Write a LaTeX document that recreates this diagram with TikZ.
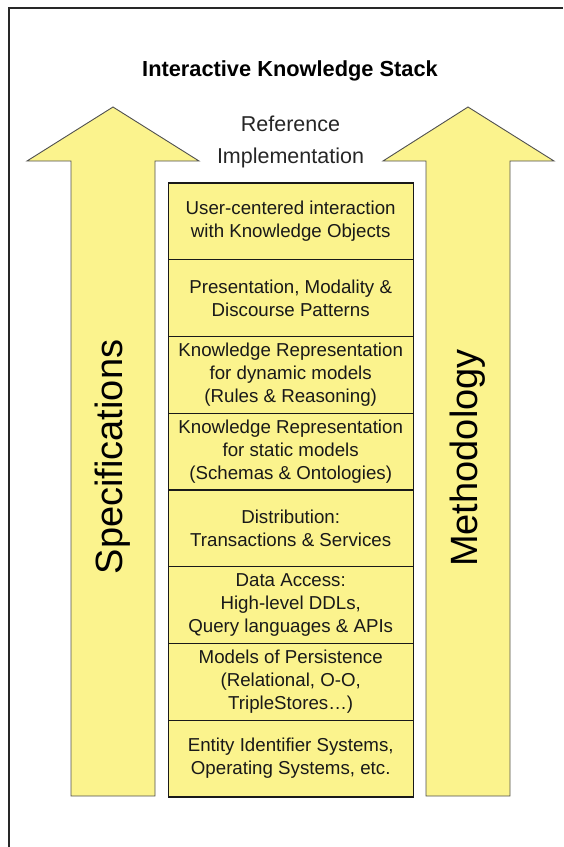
\documentclass[tikz,border=0pt]{standalone}
\usepackage{fontspec}
\setmainfont{Liberation Sans}
\definecolor{stackfill}{RGB}{251,243,141}
\definecolor{arrowline}{RGB}{80,80,80}
\definecolor{framecol}{RGB}{40,40,40}
\begin{document}
\begin{tikzpicture}[x=1pt,y=-1pt,
  layer/.style={draw=black!90,line width=1.3pt,fill=stackfill,minimum width=245pt,
    minimum height=76.75pt,inner sep=0pt,align=center,text=black!90,
    font=\fontsize{18.7}{23}\selectfont},
  bigarrow/.style={draw=arrowline,line width=0.9pt,fill=stackfill,line join=miter},
  sidelabel/.style={rotate=90,font=\fontsize{38}{40}\selectfont,text=black,inner sep=0pt},
]
\useasboundingbox (0,0) rectangle (563,847);
\draw[framecol,line width=1.3pt] (9,847) -- (9,8) -- (563,8);

\node[font=\fontsize{21.8}{24}\selectfont\bfseries,anchor=base] (title) at (290,76.7) {Interactive Knowledge Stack};
\node[font=\fontsize{21.5}{31.6}\selectfont,align=center,anchor=base,text=black!85] (ref) at (290.5,163.3) {Reference\\Implementation};

\draw[bigarrow] (71,796) -- (71,161) -- (27,161) -- (113,107) -- (199,161) -- (155,161) -- (155,796) -- cycle;
\draw[bigarrow] (426,796) -- (426,161) -- (383,161) -- (468,107) -- (554,161) -- (510,161) -- (510,796) -- cycle;

\node[sidelabel] (spec) at (113,457) {Specifications};
\node[sidelabel] (meth) at (468,458) {Methodology};

\node[layer] (l1) at (290.7,221.4) {User-centered interaction\\with Knowledge Objects};
\node[layer] (l2) at (290.7,298.1) {Presentation, Modality \&\\Discourse Patterns};
\node[layer] (l3) at (290.7,374.9) {Knowledge Representation\\for dynamic models\\(Rules \& Reasoning)};
\node[layer] (l4) at (290.7,451.6) {Knowledge Representation\\for static models\\(Schemas \& Ontologies)};
\node[layer] (l5) at (290.7,528.4) {Distribution:\\Transactions \& Services};
\node[layer] (l6) at (290.7,605.1) {Data Access:\\High-level DDLs,\\Query languages \& APIs};
\node[layer] (l7) at (290.7,681.9) {Models of Persistence\\(Relational, O-O,\\TripleStores…)};
\node[layer] (l8) at (290.7,758.6) {Entity Identifier Systems,\\Operating Systems, etc.};
\end{tikzpicture}
\end{document}
